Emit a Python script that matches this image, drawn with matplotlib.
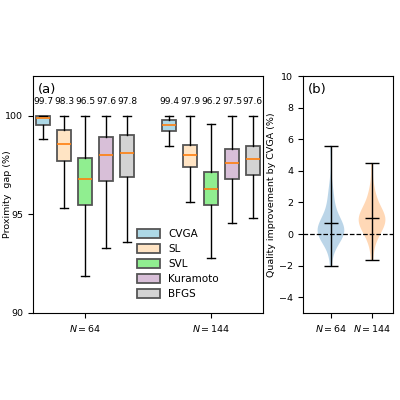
import matplotlib
matplotlib.use("Agg")
import matplotlib.pyplot as plt
from matplotlib.patches import Patch

methods = ["CVGA", "SL", "SVL", "Kuramoto", "BFGS"]
colors = ["lightblue", "bisque", "lightgreen", "thistle", "lightgray"]
groups = ["$N = 64$", "$N = 144$"]
labels_top = [[99.7, 98.3, 96.5, 97.6, 97.8], [99.4, 97.9, 96.2, 97.5, 97.6]]
# whislo, q1, med, q3, whishi
stats64 = [[98.81, 99.54, 99.86, 100.0, 100.0],
           [95.34, 97.68, 98.54, 99.27, 100.0],
           [91.86, 95.47, 96.78, 97.86, 100.0],
           [93.27, 96.66, 97.98, 98.93, 100.0],
           [93.59, 96.88, 98.12, 99.03, 100.0]]
stats144 = [[98.46, 99.24, 99.51, 99.75, 100.0],
            [95.61, 97.37, 97.98, 98.53, 100.0],
            [92.76, 95.46, 96.27, 97.12, 99.58],
            [94.54, 96.78, 97.58, 98.29, 100.0],
            [94.80, 96.98, 97.80, 98.44, 100.0]]
imp64 = [-2.0, -0.8, -0.5, -0.3, -0.2, -0.1, 0, 0, 0.05, 0.1, 0.1, 0.15, 0.2, 0.2, 0.3, 0.3,
         0.4, 0.5, 0.6, 0.7, 0.8, 1.0, 1.2, 1.5, 1.8, 2.2, 2.6, 3.0, 5.6]
imp144 = [-1.65, -0.5, -0.2, 0, 0.2, 0.4, 0.5, 0.6, 0.7, 0.8, 0.9, 0.9, 1.0, 1.0, 1.1, 1.2,
          1.3, 1.4, 1.6, 1.8, 2.1, 2.5, 2.9, 4.5]

plt.rcParams['font.size'] = 6.8
fig = plt.figure(figsize=(4, 4), dpi=100)
ax = fig.add_axes([0.0825, 0.2175, 0.575, 0.5925])
bx = fig.add_axes([0.7575, 0.2175, 0.225, 0.5925])

bxpstats = []
positions = []
for gi, st in enumerate([stats64, stats144]):
    for mi, s in enumerate(st):
        bxpstats.append(dict(whislo=s[0], q1=s[1], med=s[2], q3=s[3], whishi=s[4], fliers=[]))
        positions.append(1 + 6 * gi + mi)
bp = ax.bxp(bxpstats, positions=positions, widths=0.7, patch_artist=True, showfliers=False,
            boxprops=dict(edgecolor="#555555", linewidth=1.3),
            medianprops=dict(color="C1", linewidth=1.2),
            whiskerprops=dict(color="black", linewidth=1), capprops=dict(color="black", linewidth=1))
for i, b in enumerate(bp["boxes"]):
    b.set_facecolor(colors[i % 5])
for gi in range(2):
    for mi in range(5):
        ax.text(1 + 6 * gi + mi, 100.7, f"{labels_top[gi][mi]}", ha="center", va="center", fontsize=6.5)
ax.set_xlim(0.52, 11.48)
ax.set_ylim(90, 102)
ax.set_yticks([90, 95, 100])
ax.set_xticks([3, 9])
ax.set_xticklabels(groups)
ax.set_ylabel("Proximity  gap (%)")
ax.yaxis.set_label_coords(-0.09, 0.5)
ax.text(0.02, 0.97, "(a)", transform=ax.transAxes, fontsize=9.5, va="top")
handles = [Patch(facecolor=c, edgecolor="#555555", linewidth=1.3, label=m) for m, c in zip(methods, colors)]
ax.legend(handles=handles, loc="lower left", bbox_to_anchor=(0.41, 0.02), frameon=False, fontsize=7.5,
          handlelength=2.2, handleheight=1.0, labelspacing=0.45)

vp = bx.violinplot([imp64, imp144], positions=[1, 2], widths=0.65, showmeans=True, showextrema=True)
for i, body in enumerate(vp["bodies"]):
    body.set_facecolor(f"C{i}")
    body.set_edgecolor("none")
    body.set_alpha(0.3)
for k in ["cmeans", "cmins", "cmaxes", "cbars"]:
    vp[k].set_color("black")
    vp[k].set_linewidth(1)
bx.axhline(0, color="black", linestyle="--", linewidth=0.9)
bx.set_xlim(0.32, 2.51)
bx.set_ylim(-5, 10)
bx.set_yticks([-4, -2, 0, 2, 4, 6, 8, 10])
bx.set_xticks([1, 2])
bx.set_xticklabels(groups)
bx.set_ylabel("Quality improvement by CVGA (%)", labelpad=2)
bx.text(0.05, 0.97, "(b)", transform=bx.transAxes, fontsize=9.5, va="top")

fig.savefig("out.png", dpi=100)
